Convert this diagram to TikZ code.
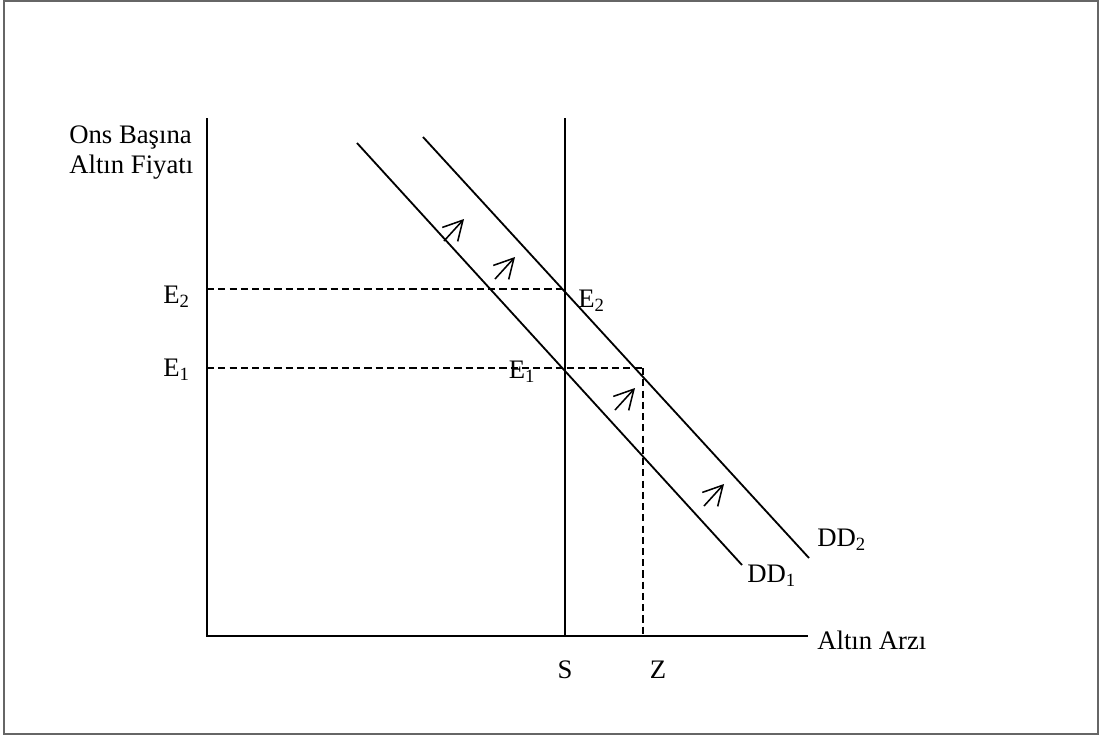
\documentclass[tikz,border=0pt]{standalone}
\usepackage{fontspec}
\setmainfont{Liberation Serif}
\usetikzlibrary{arrows.meta,positioning}
\tikzset{
    guide/.style={dash pattern=on 5pt off 3pt, line width=0.9pt},
    shiftarrow/.style={-{Straight Barb[length=4.8mm,width=5.2mm,line width=1.1pt]}, line width=1.1pt},
    lbl/.style={font=\fontsize{19}{22}\selectfont, inner sep=1pt}
}
\begin{document}
\begin{tikzpicture}[x=0.025cm, y=-0.025cm, line width=1.3pt]
                \useasboundingbox (0, 0) rectangle (1101, 738);
                \draw[black!60, line width=0.8pt] (4, 1) rectangle (1098, 734);

                \coordinate (O) at (207, 636);
                \coordinate (ytop) at (207, 118);
                \coordinate (xend) at (808, 636);
                \coordinate (Stop) at (565, 118);
                \coordinate (Sbot) at (565, 636);
                \coordinate (Zbot) at (643, 636);
                \coordinate (Zt) at (643, 368);
                \coordinate (E1) at (565, 368);
                \coordinate (E2) at (565, 289);
                \coordinate (e1ax) at (207, 368);
                \coordinate (e2ax) at (207, 289);
                \coordinate (dd1a) at (357, 143);
                \coordinate (dd1b) at (742, 565);
                \coordinate (dd2a) at (423, 137);
                \coordinate (dd2b) at (809, 558);

                \draw (ytop) -- (O) -- (xend);
                \draw (Stop) -- (Sbot);
                \draw (dd1a) -- (dd1b);
                \draw (dd2a) -- (dd2b);

                \draw[guide] (e2ax) -- (E2);
                \draw[guide] (e1ax) -- (Zt);
                \draw[guide] (Zt) -- (Zbot);

                \foreach \tx/\ty in {464/219, 515/257, 635/388, 724/484}
                    \draw[shiftarrow] (\tx-20, \ty+22) -- (\tx, \ty);

                \node[lbl, anchor=base west] (ons) at (67, 143) {Ons Başına};
                \node[lbl, anchor=base west] (fiyat) at (67, 173) {Altın Fiyatı};
                \node[lbl, anchor=west] (arz) at (815, 640) {Altın Arzı};

                \node[lbl, anchor=west] (e2left) at (161, 297) {E\textsubscript{2}};
                \node[lbl, anchor=west] (e1left) at (161, 370) {E\textsubscript{1}};
                \node[lbl, anchor=west] (e2pt) at (576, 301) {E\textsubscript{2}};
                \node[lbl] (e1pt) at (522, 372) {E\textsubscript{1}};

                \node[lbl] (slab) at (565, 670) {S};
                \node[lbl] (zlab) at (658, 670) {Z};

                \node[lbl, anchor=west] (dd1lab) at (745, 576) {DD\textsubscript{1}};
                \node[lbl, anchor=west] (dd2lab) at (815, 540) {DD\textsubscript{2}};
            \end{tikzpicture}
\end{document}
